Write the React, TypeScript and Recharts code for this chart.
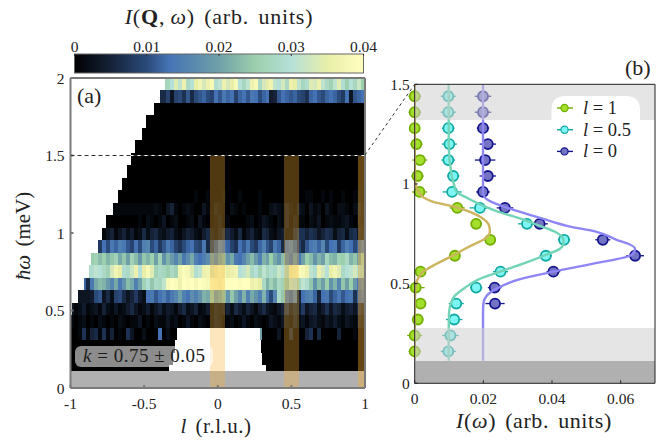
import React from 'react'
import { ComposedChart, Scatter, Line, ErrorBar, XAxis, YAxis } from 'recharts'

const SERIF = '"Liberation Serif", "DejaVu Serif", serif'
const INK = '#222222'

// colormap, in units of 0.001
const cmapLevels = [0, 5, 10, 13, 20, 25, 30, 35, 40]
const cmapColors = ['#000000', '#152238', '#2a4a7a', '#4472b4', '#6fa0a8', '#9ccfac', '#b5e0d8', '#e8eea8', '#ffffc0']

// panel (a): one row per energy bin, top to bottom, values in 0.001 units, aligned to the right edge
const rowStarts = [-0.358, -0.392, -0.436, -0.484, -0.514, -0.559, -0.589, -0.616, -0.65, -0.677, -0.711, -0.759, -0.786, -0.813, -0.861, -0.874, -0.905, -0.949, -0.993, -1, -1, -1, -1, -1]
const heatRows: number[][] = [
  [27, 30, 34, 31, 36, 28, 30, 35, 37, 33, 36, 38, 29, 31, 36, 33, 35, 38, 30, 27, 31, 36, 38, 28, 33, 35, 37, 31, 30, 33, 28, 36, 35, 31, 27, 29, 34, 33, 36, 31, 28, 26, 31, 34, 29, 25, 30, 27, 32, 25],
  [6, 9, 3, 9, 10, 7, 11, 6, 10, 11, 12, 10, 9, 13, 11, 14, 12, 13, 9, 12, 13, 11, 14, 13, 10, 12, 13, 4, 5, 11, 13, 12, 11, 12, 10, 9, 7, 12, 13, 11, 10, 12, 13, 12, 10, 8, 13, 3, 11, 12, 13],
  [0], [0], [0], [0], [0], [0], [0],
  [0, 0, 0, 1, 0, 0, 1, 0, 0, 0, 1, 0, 0, 0, 1, 0, 0, 0, 0, 1, 0, 0, 0, 0, 0, 0, 0, 0, 0, 0, 0, 1, 1, 0, 0, 1, 0, 1, 0, 0, 1, 0, 0, 1, 1, 0],
  [1, 2, 1, 0, 3, 5, 1, 0, 1, 2, 1, 0, 0, 3, 1, 0, 2, 1, 0, 0, 2, 1, 0, 1, 0, 0, 0, 1, 0, 0, 2, 3, 2, 1, 3, 1, 0, 3, 2, 0, 3, 1, 2, 0, 3, 1, 0, 2, 2, 1, 0, 2, 3, 1],
  [0, 1, 0, 2, 1, 0, 1, 3, 0, 1, 2, 0, 0, 1, 2, 0, 3, 1, 0, 0, 1, 2, 0, 1, 0, 0, 0, 0, 1, 2, 0, 1, 3, 2, 1, 0, 2, 1, 3, 0, 2, 1, 1, 0, 2, 1, 3, 0, 1, 2, 1, 1, 2, 3, 1, 0, 2, 1],
  [1, 3, 5, 1, 3, 5, 2, 4, 1, 2, 6, 2, 5, 6, 3, 2, 4, 5, 2, 1, 3, 5, 4, 2, 1, 4, 6, 2, 1, 3, 5, 6, 4, 2, 6, 1, 3, 5, 2, 1, 6, 5, 2, 1, 3, 4, 1, 1, 5, 7, 7, 5, 7, 6, 3, 5, 7, 6, 2, 5, 6, 2, 6, 7, 3, 2],
  [8, 13, 10, 14, 12, 15, 14, 11, 9, 13, 10, 15, 16, 10, 12, 8, 11, 14, 12, 9, 7, 10, 12, 13, 10, 9, 14, 6, 8, 11, 15, 13, 12, 9, 7, 13, 11, 14, 10, 8, 12, 15, 11, 9, 14, 12, 6, 13, 15, 12, 9, 6, 11, 14, 15, 12, 16, 10, 13, 14, 8, 12, 15, 13, 10, 12, 14],
  [24, 25, 26, 23, 25, 22, 24, 26, 21, 24, 20, 26, 23, 19, 24, 22, 25, 20, 26, 18, 22, 19, 16, 20, 14, 17, 21, 15, 13, 15, 17, 19, 16, 20, 22, 18, 21, 14, 13, 16, 20, 23, 19, 15, 22, 20, 25, 21, 18, 23, 16, 13, 18, 14, 20, 25, 23, 18, 22, 20, 27, 23, 22, 26, 25, 28, 22, 24, 20, 26],
  [27, 28, 29, 31, 30, 28, 26, 33, 37, 35, 29, 28, 32, 36, 30, 35, 38, 34, 26, 28, 27, 25, 28, 26, 37, 39, 38, 34, 29, 31, 36, 37, 34, 36, 38, 37, 35, 36, 37, 30, 31, 33, 28, 30, 26, 31, 27, 29, 28, 32, 30, 28, 36, 37, 39, 38, 36, 31, 29, 36, 33, 30, 35, 37, 34, 28, 30, 31, 33, 29, 28],
  [5, 12, 6, 14, 21, 23, 22, 19, 16, 21, 14, 18, 23, 21, 15, 20, 26, 29, 24, 28, 27, 31, 38, 40, 39, 36, 40, 39, 40, 38, 40, 39, 38, 40, 39, 38, 40, 40, 40, 40, 39, 40, 40, 36, 37, 35, 28, 22, 26, 23, 28, 26, 24, 31, 30, 27, 31, 29, 24, 18, 23, 20, 25, 18, 22, 16, 24, 20, 25, 19, 14, 16],
  [3, 4, 10, 11, 3, 6, 2, 9, 10, 6, 3, 5, 8, 4, 2, 13, 14, 11, 13, 15, 12, 14, 16, 20, 15, 13, 17, 15, 18, 22, 21, 24, 19, 21, 23, 18, 24, 20, 16, 22, 15, 21, 18, 15, 22, 14, 10, 16, 28, 24, 14, 12, 16, 5, 13, 15, 16, 12, 5, 13, 14, 10, 12, 14, 11, 13, 14, 7, 12, 13],
  [3, 1, 2, 4, 1, 2, 3, 1, 5, 2, 1, 3, 1, 2, 4, 6, 3, 1, 2, 4, 1, 3, 5, 2, 4, 3, 1, 4, 6, 2, 3, 5, 1, 2, 4, 1, 3, 2, 3, 5, 2, 6, 4, 2, 5, 3, 1, 4, 6, 3, 2, 1, 3, 5, 7, 3, 5, 4, 8, 3, 5, 6, 2, 4, 7, 3, 6, 5, 2, 4, 5, 3, 6, 4],
  [1, 0, 1, 2, 0, 1, 0, 2, 1, 0, 1, 0, 2, 1, 0, 1, 1, 3, 0, 1, 0, 2, 1, 1, 3, 1, 2, 0, 1, 3, 1, 0, 2, 1, 0, 1, 3, 2, 0, 1, 2, 0, 1, 3, 1, 0, 2, 1, 0, 1, 3, 2, 1, 3, 2, 1, 4, 2, 3, 1, 3, 4, 2, 1, 3, 2, 4, 2, 1, 3, 2, 1, 3, 2],
  [0, 0, 1, 7, 1, 5, 6, 1, 7, 1, 5, 0, 1, 0, 7, 3, 0, 0, 2, 0, 0, 0, 13, 0, 2, 0, 0, 0, 0, 0, 0, 0, 0, 0, 0, 0, 0, 0, 0, 0, 0, 0, 0, 0, 0, 0, 0, 20, 0, 0, 0, 0, 3, 0, 0, 5, 0, 0, 0, 5, 7, 0, 6, 0, 0, 0, 0, 5, 0, 0, 0, 1, 0, 0],
  [0], [0], [0],
]
// white gap in the lowest rows: row index, left and right edge in l
const holeRows = [20, 21, 22, 23]
const holeLeft = [-0.277, -0.29, -0.304, -0.331]
const holeRight = [0.287, 0.294, 0.3, 0.328]

const goldCentres = [0, 0.5, 0.975]
const goldSpans = [0.1, 0.1, 0.05]
const goldAlphas = [0.32, 0.32, 0.4]

// panel (b) points
const energiesFull = [1.44, 1.36, 1.28, 1.2, 1.12, 1.04, 0.96, 0.88, 0.8, 0.72, 0.64, 0.56, 0.48, 0.4, 0.32, 0.24, 0.16]
const pointsL1 = [0, 0, 0, 0.0005, 0.0015, 0.0008, 0.0014, 0.0124, 0.0179, 0.022, 0.0117, 0.0017, 0.0003, 0.0017, 0.0009, 0, 0]
const errorsL1 = [0.0018, 0.0018, 0.0015, 0.0018, 0.0022, 0.0018, 0.0022, 0.0022, 0.0015, 0.0016, 0.0016, 0.0014, 0.0026, 0.0016, 0.0016, 0.0022, 0.0018]
const pointsL05 = [0.0098, 0.0098, 0.0098, 0.0101, 0.0098, 0.0112, 0.0109, 0.019, 0.0327, 0.0435, 0.0382, 0.025, 0.0179, 0.0121, 0.0115, 0.0104, 0.0098]
const errorsL05 = [0.0022, 0.0022, 0.0018, 0.0022, 0.002, 0.0018, 0.0028, 0.003, 0.0026, 0.0018, 0.0018, 0.0022, 0.0018, 0.0022, 0.0024, 0.0024, 0.0022]
const pointsL0 = [0.0199, 0.0199, 0.0199, 0.0213, 0.0205, 0.0213, 0.0199, 0.0263, 0.0364, 0.0548, 0.0642, 0.0404, 0.0233, 0.0234]
const errorsL0 = [0.0024, 0.0024, 0.0018, 0.0024, 0.003, 0.0024, 0.002, 0.0024, 0.0024, 0.0022, 0.0026, 0.002, 0.002, 0.0028]

// panel (b) fit curves
const curveEnergies = [1.5, 1.2, 1.04, 1.0, 0.96, 0.93, 0.91, 0.89, 0.86, 0.83, 0.79, 0.76, 0.72, 0.7, 0.675, 0.644, 0.6, 0.56, 0.52, 0.48, 0.44, 0.4, 0.35, 0.25, 0.113]
const curveL1 = [0, 0, 0.0001, 0.0002, 0.0011, 0.0028, 0.0054, 0.0105, 0.0161, 0.0195, 0.0217, 0.0219, 0.02, 0.0176, 0.0147, 0.0115, 0.0064, 0.0025, 0.0008, 0.0002, 0.0001, 0, 0, 0, 0]
const curveL05 = [0.0099, 0.0099, 0.0108, 0.0114, 0.0122, 0.0153, 0.0175, 0.02, 0.0244, 0.0302, 0.0365, 0.0409, 0.0433, 0.0433, 0.0423, 0.0382, 0.0316, 0.0249, 0.0185, 0.0147, 0.0117, 0.0105, 0.01, 0.0099, 0.0099]
const curveL0 = [0.0199, 0.0199, 0.0199, 0.0199, 0.0199, 0.0205, 0.0224, 0.0253, 0.0307, 0.0365, 0.0443, 0.053, 0.0588, 0.0622, 0.0642, 0.0632, 0.052, 0.0404, 0.0302, 0.0244, 0.021, 0.02, 0.0199, 0.0199, 0.0199]

const seriesNames = ['l = 1', 'l = 0.5', 'l = 0']
const lineColors = ['#cdb45e', '#72d4b6', '#8f86f6']
const markerFills = ['#a3df2c', '#7ff6f6', '#7474c4']
const markerStrokes = ['#72ad00', '#10a9a2', '#14148e']

const lTicks = [-1, -0.5, 0, 0.5, 1]
const wTicksA = [0, 0.5, 1, 1.5, 2]
const cbTicks = [0, 0.01, 0.02, 0.03, 0.04]
const iTicks = [0, 0.02, 0.04, 0.06]
const wTicksB = [0, 0.5, 1, 1.5]

// plot boxes in page pixels
const A = { left: 70.5, right: 365, top: 78, bottom: 388 }
const B = { left: 414.7, right: 655, top: 84.3, bottom: 383.3 }
const CB = { left: 74.5, right: 363.5, top: 54, bottom: 73 }
const NCOLS = 74
const ROW_H = 0.0806
const TOP_LAYER = 900

const hexToRgb = (h: string) => [1, 3, 5].map((i) => parseInt(h.slice(i, i + 2), 16))
const colorOf = (v: number) => {
  let i = 0
  while (i < cmapLevels.length - 2 && v > cmapLevels[i + 1]) i++
  const t = Math.min(1, (v - cmapLevels[i]) / (cmapLevels[i + 1] - cmapLevels[i]))
  const a = hexToRgb(cmapColors[i])
  const b = hexToRgb(cmapColors[i + 1])
  return `rgb(${a.map((c, k) => Math.round(c + (b[k] - c) * t)).join(',')})`
}

type Cell = { l?: number; i?: number; c?: number; w: number; spanX: number; spanY: number; fill: string; opacity?: number; stroke?: string }

const heatCells: Cell[] = []
const pushCell = (a: number, b: number, w: number, v: number) => {
  if (b > a) heatCells.push({ l: (a + b) / 2, w, spanX: b - a, spanY: ROW_H, fill: colorOf(v) })
}
heatRows.forEach((vals, r) => {
  const w = 2 - ROW_H * (r + 0.5)
  const step = 2 / NCOLS
  vals.forEach((v, i) => {
    const right = 1 - step * (vals.length - 1 - i)
    let a = i === 0 ? rowStarts[r] : right - step
    let b = right
    if (a < rowStarts[r]) a = rowStarts[r]
    const h = holeRows.indexOf(r)
    if (h >= 0) {
      pushCell(a, Math.min(b, holeLeft[h]), w, v)
      pushCell(Math.max(a, holeRight[h]), b, w, v)
    } else {
      pushCell(a, b, w, v)
    }
  })
})

const overlayCells: Cell[] = [
  { l: 0, w: 0.055, spanX: 2, spanY: 0.11, fill: '#b0b0b0' },
  ...goldCentres.map((l, i) => ({ l, w: 0.75, spanX: goldSpans[i], spanY: 1.5, fill: '#fab032', opacity: goldAlphas[i] })),
]
const dashLine = [{ l: -1, w: 1.5 }, { l: 1, w: 1.5 }]

const cbCells: Cell[] = [{ c: 0.02, w: 0.5, spanX: 0.04, spanY: 1, fill: 'url(#cbar)', stroke: '#666666' }]

const bandCells: Cell[] = [
  { i: 0.035, w: 1.4105, spanX: 0.07, spanY: 0.179, fill: '#d0d0d0', opacity: 0.55 },
  { i: 0.035, w: 0.196, spanX: 0.07, spanY: 0.166, fill: '#d0d0d0', opacity: 0.55 },
  { i: 0.035, w: 0.0565, spanX: 0.07, spanY: 0.113, fill: '#b0b0b0' },
]

// a rectangle centred on its data point, sized in data units
const cellShape = (pxX: number, pxY: number) => (props: any) => {
  const { cx, cy, payload } = props
  const p = payload as Cell
  const w = p.spanX * pxX
  const h = p.spanY * pxY
  return <rect x={cx - w / 2} y={cy - h / 2} width={w} height={h} fill={p.fill} fillOpacity={p.opacity ?? 1} stroke={p.stroke ?? 'none'} shapeRendering={p.stroke ? undefined : 'crispEdges'} />
}
const cellA = cellShape((A.right - A.left) / 2, (A.bottom - A.top) / 2)
const cellB = cellShape((B.right - B.left) / 0.07, (B.bottom - B.top) / 1.5)
const cellCB = cellShape((CB.right - CB.left) / 0.04, CB.bottom - CB.top)

const dots = (i: number) => (props: any) => (
  <circle cx={props.cx} cy={props.cy} r={5} fill={markerFills[i]} stroke={markerStrokes[i]} strokeWidth={1.8} />
)

const toPoints = (vals: number[], errs: number[]) => vals.map((v, i) => ({ i: v, w: energiesFull[i], err: errs[i] }))
const toCurve = (vals: number[]) => vals.map((v, i) => ({ i: v, w: curveEnergies[i] }))

const pointSets = [toPoints(pointsL1, errorsL1), toPoints(pointsL05, errorsL05), toPoints(pointsL0, errorsL0)]
const curveSets = [toCurve(curveL1), toCurve(curveL05), toCurve(curveL0)]

const tickStyle = { fontSize: 15.5, fill: INK, fontFamily: SERIF }
const GREY_AXIS = '#7a7a7a'

const PanelA = () => (
  <ComposedChart
    width={400}
    height={440}
    margin={{ left: A.left - 1, right: 400 - A.right - 1, top: A.top - 1, bottom: 440 - A.bottom - 1 }}
    style={{ position: 'absolute', left: 0, top: 0 }}
  >
    <XAxis type="number" dataKey="l" domain={[-1, 1]} ticks={lTicks} interval={0} height={1} tickSize={-3} tickMargin={13} tick={tickStyle} tickFormatter={(v) => String(v)} stroke={GREY_AXIS} strokeWidth={2} zIndex={TOP_LAYER} />
    <XAxis type="number" xAxisId="top" orientation="top" domain={[-1, 1]} ticks={lTicks} interval={0} height={1} tickSize={-3} tickMargin={0} tickFormatter={() => ''} stroke={GREY_AXIS} strokeWidth={2} zIndex={TOP_LAYER} />
    <YAxis type="number" dataKey="w" domain={[0, 2]} ticks={wTicksA} interval={0} width={1} tickSize={-3} tickMargin={9} tick={tickStyle} stroke={GREY_AXIS} strokeWidth={2} zIndex={TOP_LAYER} />
    <YAxis type="number" yAxisId="right" orientation="right" domain={[0, 2]} ticks={wTicksA} interval={0} width={1} tickSize={-3} tickMargin={0} tickFormatter={() => ''} stroke={GREY_AXIS} strokeWidth={2} zIndex={TOP_LAYER} />
    <Scatter className="heat" data={heatCells} shape={cellA} isAnimationActive={false} />
    <Scatter data={overlayCells} shape={cellA} isAnimationActive={false} />
    <Line data={dashLine} dataKey="w" stroke="#ffffff" strokeWidth={1} dot={false} isAnimationActive={false} zIndex={TOP_LAYER} />
    <Line data={dashLine} dataKey="w" stroke="#333333" strokeWidth={1} strokeDasharray="4 3" dot={false} isAnimationActive={false} zIndex={TOP_LAYER} />
  </ComposedChart>
)

const ColorBar = () => (
  <ComposedChart
    width={400}
    height={100}
    margin={{ left: CB.left, right: 400 - CB.right, top: CB.top - 1, bottom: 100 - CB.bottom }}
    style={{ position: 'absolute', left: 0, top: 0 }}
  >
    <defs>
      <linearGradient id="cbar" x1="0" y1="0" x2="1" y2="0">
        {cmapLevels.map((lv, i) => (
          <stop key={lv} offset={lv / 40} stopColor={cmapColors[i]} />
        ))}
      </linearGradient>
    </defs>
    <XAxis type="number" dataKey="c" orientation="top" domain={[0, 0.04]} ticks={cbTicks} interval={0} height={1} tickSize={-2} tickMargin={4} tick={tickStyle} tickFormatter={(v) => String(v)} stroke="#333333" axisLine={false} zIndex={TOP_LAYER} />
    <YAxis type="number" dataKey="w" domain={[0, 1]} hide width={0} />
    <Scatter data={cbCells} shape={cellCB} isAnimationActive={false} />
  </ComposedChart>
)

const PanelB = () => (
  <ComposedChart
    layout="vertical"
    width={292}
    height={440}
    margin={{ left: B.left - 380 - 1, right: 672 - B.right - 1, top: B.top - 1, bottom: 440 - B.bottom - 1 }}
    style={{ position: 'absolute', left: 380, top: 0 }}
  >
    <XAxis type="number" dataKey="i" domain={[0, 0.07]} ticks={iTicks} interval={0} height={1} tickSize={-3} tickMargin={13} tick={tickStyle} tickFormatter={(v) => String(v)} stroke={INK} allowDataOverflow zIndex={TOP_LAYER + 20} />
    <XAxis type="number" xAxisId="top" orientation="top" domain={[0, 0.07]} ticks={iTicks} interval={0} height={1} tickSize={-3} tickMargin={0} tickFormatter={() => ''} stroke={INK} zIndex={TOP_LAYER + 20} />
    <YAxis type="number" dataKey="w" reversed domain={[0, 1.5]} ticks={wTicksB} interval={0} width={1} tickSize={-3} tickMargin={8} tick={tickStyle} stroke={INK} zIndex={TOP_LAYER + 20} />
    <YAxis type="number" yAxisId="right" reversed orientation="right" domain={[0, 1.5]} ticks={wTicksB} interval={0} width={1} tickSize={-3} tickMargin={0} tickFormatter={() => ''} stroke={INK} zIndex={TOP_LAYER + 20} />
    {pointSets.map((p, i) => (
      <Scatter key={seriesNames[i]} data={p} shape={dots(i)} isAnimationActive={false}>
        <ErrorBar dataKey="err" direction="x" width={0} stroke={markerStrokes[i]} strokeWidth={1.3} isAnimationActive={false} />
      </Scatter>
    ))}
    {curveSets.map((c, i) => (
      <Line key={seriesNames[i]} data={c} dataKey="i" type="monotoneY" stroke={lineColors[i]} strokeWidth={2.4} dot={false} isAnimationActive={false} zIndex={TOP_LAYER} />
    ))}
    <Scatter data={bandCells} shape={cellB} isAnimationActive={false} zIndex={TOP_LAYER + 10} />
  </ComposedChart>
)

const Annotations = () => (
  <svg width={672} height={440} style={{ position: 'absolute', left: 0, top: 0, pointerEvents: 'none' }} fontFamily={SERIF} fill={INK}>
    <text x={219} y={24} fontSize={22} textAnchor="middle" letterSpacing={0.8} wordSpacing={3}>
      <tspan fontStyle="italic">I</tspan>(<tspan fontWeight="bold">Q</tspan>,{'\u2009'}<tspan fontStyle="italic">ω</tspan>) (arb. units)
    </text>
    <text x={77} y={103} fontSize={22}>(a)</text>
    <text x={625} y={75} fontSize={22}>(b)</text>
    <text x={216} y={433} fontSize={21} textAnchor="middle" letterSpacing={0.5} wordSpacing={3}>
      <tspan fontStyle="italic">l</tspan> (r.l.u.)
    </text>
    <text transform="translate(30,236) rotate(-90)" fontSize={21} textAnchor="middle" wordSpacing={3}>
      <tspan fontStyle="italic">ħω</tspan> (meV)
    </text>
    <text x={534} y={428} fontSize={22} textAnchor="middle" letterSpacing={0.6} wordSpacing={3}>
      <tspan fontStyle="italic">I</tspan>(<tspan fontStyle="italic">ω</tspan>) (arb. units)
    </text>
    <rect x={75} y={346} width={138} height={21} rx={6} fill="#ffffff" fillOpacity={0.55} />
    <text x={83} y={362} fontSize={19} fill="#1c1c1c" letterSpacing={0.5}>
      <tspan fontStyle="italic">k</tspan> = 0.75 ± 0.05
    </text>
    <line x1={365} y1={155} x2={414.7} y2={84.3} stroke="#333333" strokeWidth={1} strokeDasharray="3 3" />
    <path d="M551.5 132 V110 Q551.5 96 565 96 H626 Q640 96 640 110 V132 Z" fill="#ffffff" />
    {seriesNames.map((name, i) => {
      const y = 108 + i * 21.7
      const [sym, ...rest] = name.split(' ')
      return (
        <g key={name}>
          <line x1={557} x2={573} y1={y} y2={y} stroke={markerStrokes[i]} strokeWidth={1.4} />
          <circle cx={564.5} cy={y} r={3.6} fill={markerFills[i]} stroke={markerStrokes[i]} strokeWidth={1.2} />
          <text x={583} y={y + 6} fontSize={18.5}>
            <tspan fontStyle="italic">{sym}</tspan> {rest.join(' ')}
          </text>
        </g>
      )
    })}
  </svg>
)

export default function App() {
  return (
    <div style={{ position: 'absolute', left: 0, top: 0, width: 672, height: 440, background: '#ffffff', fontFamily: SERIF }}>
      <style>{'.recharts-scatter, .recharts-scatter * { clip-path: none !important; } .heat { filter: blur(0.5px); }'}</style>
      <PanelA />
      <ColorBar />
      <PanelB />
      <Annotations />
    </div>
  )
}
